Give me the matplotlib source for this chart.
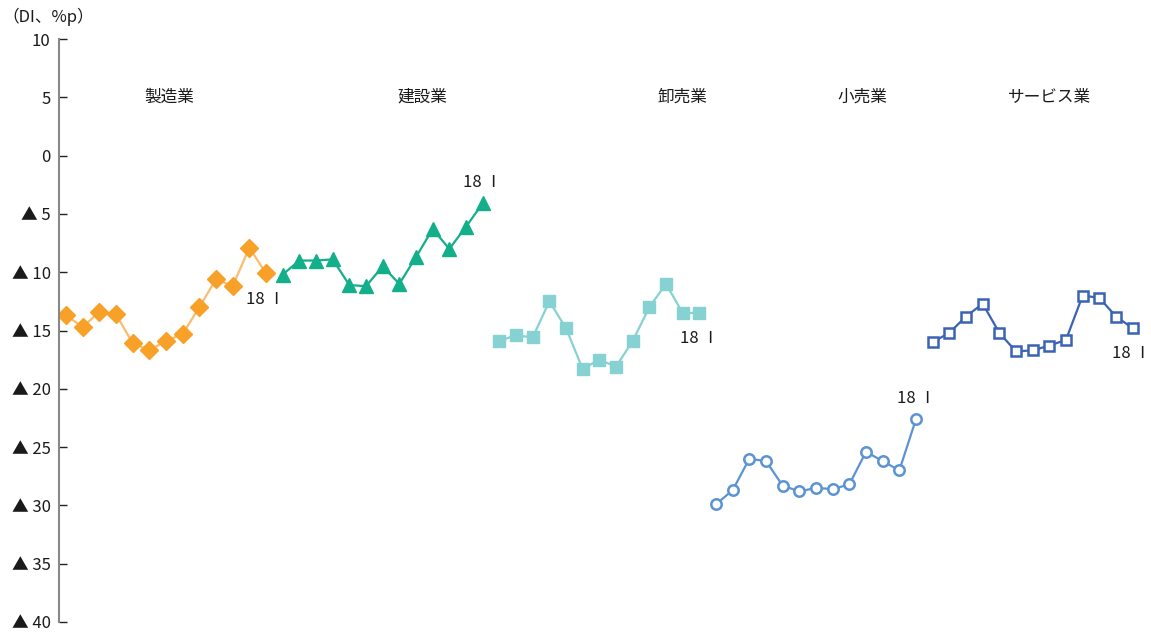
import matplotlib
matplotlib.use("Agg")
import matplotlib.pyplot as plt
import numpy as np

plt.rcParams['font.family'] = ['Noto Sans CJK JP', 'DejaVu Sans']

sectors = ["製造業", "建設業", "卸売業", "小売業", "サービス業"]
manufacturing = [-13.7, -14.7, -13.4, -13.6, -16.1, -16.7, -15.9, -15.3, -13.0, -10.6, -11.2, -7.9, -10.1]
construction = [-10.2, -9.0, -9.0, -8.9, -11.1, -11.2, -9.5, -11.0, -8.7, -6.3, -8.0, -6.1, -4.1]
wholesale = [-15.9, -15.4, -15.6, -12.5, -14.8, -18.3, -17.5, -18.1, -15.9, -13.0, -11.0, -13.5, -13.5]
retail = [-29.9, -28.7, -26.0, -26.2, -28.3, -28.8, -28.5, -28.6, -28.2, -25.4, -26.2, -27.0, -22.6]
services = [-16.0, -15.2, -13.8, -12.7, -15.2, -16.8, -16.7, -16.3, -15.8, -12.0, -12.2, -13.8, -14.8]
end_label = "18 Ⅰ"
y_ticks = [10, 5, 0, -5, -10, -15, -20, -25, -30, -35, -40]
y_ticklabels = ["10", "5", "0", "▲ 5", "▲ 10", "▲ 15", "▲ 20", "▲ 25", "▲ 30", "▲ 35", "▲ 40"]
unit_label = "（DI、%p）"

W, H = 1151, 633
fig = plt.figure(figsize=(W/100, H/100), dpi=100)
ax = fig.add_axes([59/W, 11/H, (W-59)/W, 583/H])

series = [manufacturing, construction, wholesale, retail, services]
styles = [
    dict(color="#F9BC72", marker="D", markersize=9, markerfacecolor="#F7A128", markeredgecolor="#F7A128"),
    dict(color="#13AE8A", marker="^", markersize=10, markerfacecolor="#13AE8A", markeredgecolor="#13AE8A"),
    dict(color="#86D2D2", marker="s", markersize=8.5, markerfacecolor="#86D2D2", markeredgecolor="#86D2D2"),
    dict(color="#5B93D3", marker="o", markersize=7.5, markerfacecolor="white", markeredgecolor="#5B93D3", markeredgewidth=1.8),
    dict(color="#3A62B5", marker="s", markersize=7.5, markerfacecolor="white", markeredgecolor="#3A62B5", markeredgewidth=1.8),
]
label_x_offsets = [6.2, 8.4, 11.0, 8.8, 7.0]
n = len(manufacturing)
end_offsets = [(0.0, -2.2), (0.0, 1.8), (0.0, -2.2), (0.0, 1.8), (-0.1, -2.2)]
txt_color = "#1a1a1a"
for i, (vals, st) in enumerate(zip(series, styles)):
    x = np.arange(n) + i * n
    ax.plot(x, vals, linewidth=1.6, **st)
    ax.text(i * n + label_x_offsets[i], 5, sectors[i], ha="center", va="center", fontsize=12, color=txt_color)
    dx, dy = end_offsets[i]
    ax.text(x[-1] + dx, vals[-1] + dy, end_label, ha="center", va="center", fontsize=12, color=txt_color)

ax.set_xlim(-0.42, 65.1)
ax.set_ylim(-40, 10)
ax.set_yticks(y_ticks)
ax.set_yticklabels(y_ticklabels, fontsize=12, color=txt_color)
ax.tick_params(axis="y", direction="in", length=6, width=1, color="#222222", pad=6)
ax.set_xticks([])
for s in ["top", "right", "bottom"]:
    ax.spines[s].set_visible(False)
ax.spines["left"].set_color("#888888")
ax.spines["left"].set_linewidth(1.5)
ax.patch.set_visible(False)

fig.text(2/W, 1 - 17/H, unit_label, ha="left", va="center", fontsize=12, color=txt_color)

fig.savefig("out.png", dpi=100)
